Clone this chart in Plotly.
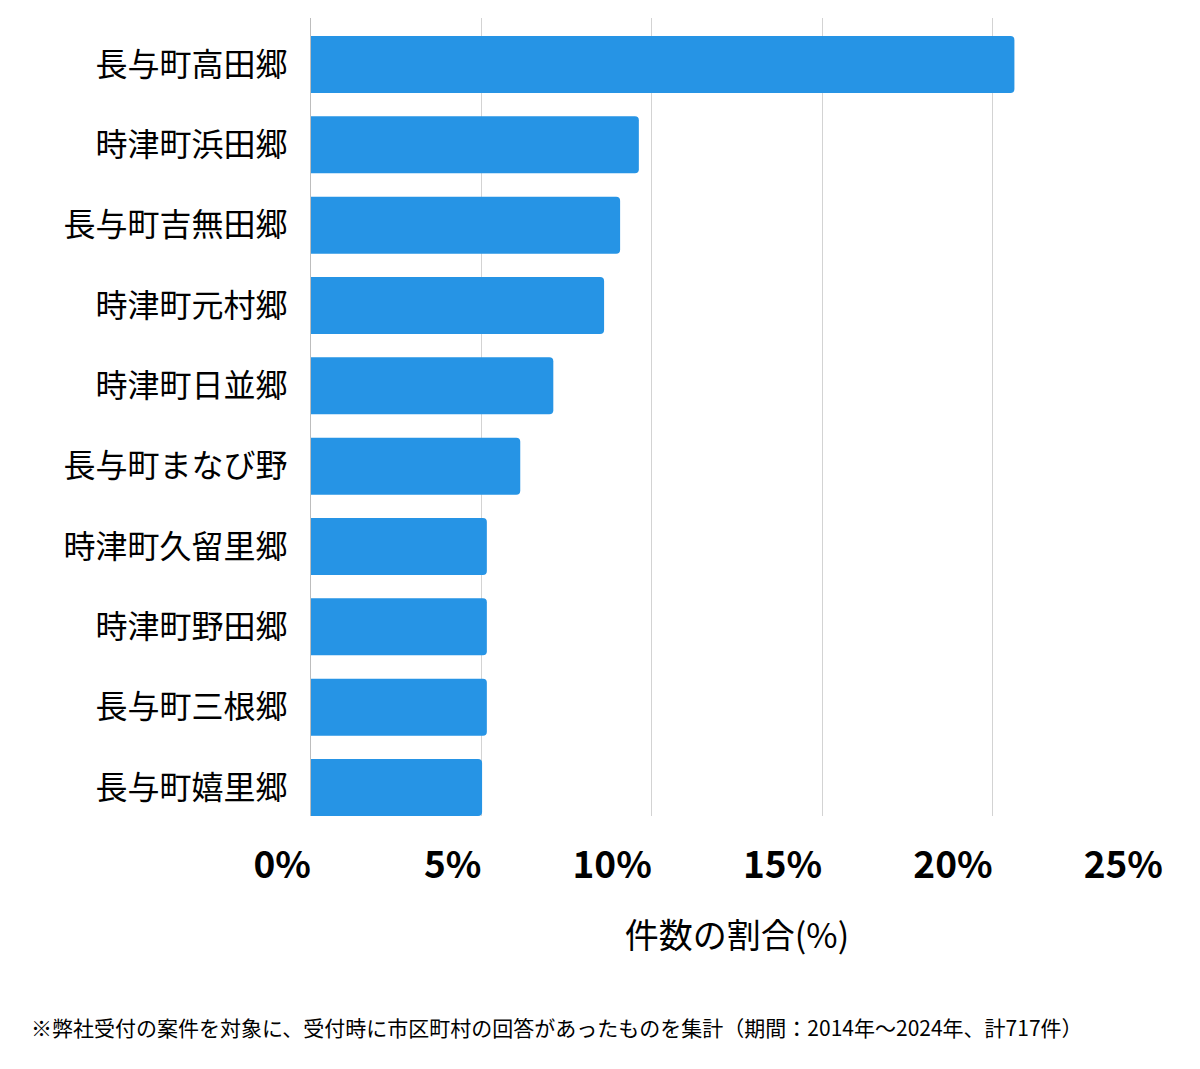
import plotly.graph_objects as go

categories = ["長与町高田郷", "時津町浜田郷", "長与町吉無田郷", "時津町元村郷", "時津町日並郷",
              "長与町まなび野", "時津町久留里郷", "時津町野田郷", "長与町三根郷", "長与町嬉里郷"]
shares = [20.64, 9.62, 9.07, 8.6, 7.11, 6.14, 5.16, 5.16, 5.16, 5.02]
x_tickvals = [0, 5, 10, 15, 20, 25]
x_ticktext = ["0%", "5%", "10%", "15%", "20%", "25%"]
x_title = "件数の割合(%)"
footnote = "※弊社受付の案件を対象に、受付時に市区町村の回答があったものを集計（期間：2014年〜2024年、計717件）"

FONT = "Noto Sans CJK JP"
W, H = 1200, 1069
L, R, T, B = 311, 37, 18, 253
pw, ph = W - L - R, H - T - B

fig = go.Figure(go.Bar(
    x=shares, y=categories, orientation="h",
    marker=dict(color="#2694E5", cornerradius=4, line=dict(width=0)),
    hoverinfo="x+y",
))

fig.update_layout(
    width=W, height=H,
    margin=dict(l=L, r=R, t=T, b=B, pad=0),
    paper_bgcolor="white", plot_bgcolor="white",
    bargap=0.29, showlegend=False,
    font=dict(family=FONT, color="#000"),
)
fig.update_xaxes(
    range=[0, 25], tickvals=x_tickvals, ticktext=x_ticktext,
    ticklabelposition="outside left", ticklabelstandoff=24,
    tickfont=dict(size=37, family=FONT, weight="bold", color="#000"),
    showgrid=True, gridcolor="#d3d3d3", gridwidth=1,
    zeroline=False, showline=False, ticks="",
    title=dict(text=x_title, font=dict(size=34, family=FONT, color="#000"), standoff=36),
)
fig.update_yaxes(
    categoryorder="array", categoryarray=categories,
    range=[9.355, -0.579],
    tickfont=dict(size=32, family=FONT, color="#000"),
    ticklabelstandoff=16, ticks="",
    showgrid=False, zeroline=False,
    showline=True, linecolor="#bdbdbd", linewidth=1,
)
fig.add_annotation(
    text=footnote, xref="paper", yref="paper",
    x=(29 - L) / pw, y=(T + ph - 1027) / ph,
    xanchor="left", yanchor="middle", showarrow=False,
    font=dict(size=21, family=FONT, color="#000"),
)
fig.write_html("out.html")
